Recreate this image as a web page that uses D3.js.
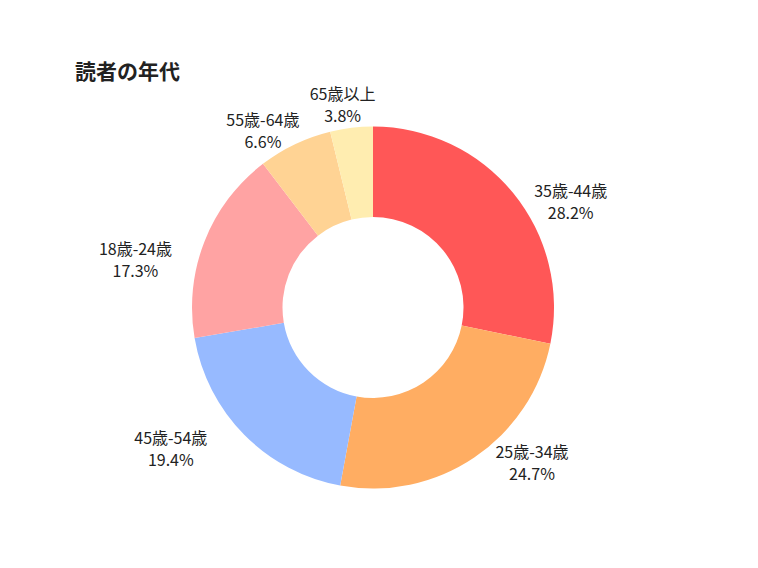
<!DOCTYPE html>
<html>
<head>
<meta charset="utf-8">
<script src="https://cdn.jsdelivr.net/npm/d3@7"></script>
<style>
	html, body { margin: 0; padding: 0; background: #fff; }
	svg text { font-family: "Noto Sans CJK JP", "Noto Sans", sans-serif; fill: #222; }
</style>
</head>
<body>
<svg id="chart" width="758" height="568"></svg>
<script>
	'use strict';

	var title = '読者の年代';
	var ageGroups = ['35歳-44歳', '25歳-34歳', '45歳-54歳', '18歳-24歳', '55歳-64歳', '65歳以上'];
	var shares = [28.2, 24.7, 19.4, 17.3, 6.6, 3.8];
	var sliceColors = ['#ff5757', '#ffad62', '#97baff', '#ffa3a3', '#ffd394', '#ffedb0'];

	var svg = d3.select('#chart');
	var cx = 373, cy = 307.5, outerR = 181, innerR = 90.5;

	svg.append('text')
		.attr('x', 75).attr('y', 79)
		.style('font-size', '21px').style('font-weight', 'bold')
		.text(title);

	var rows = ageGroups.map(function(g, i) {
		return { group: g, value: shares[i], color: sliceColors[i] };
	});

	var pie = d3.pie().sort(null).value(function(d) { return d.value; });
	var arc = d3.arc().innerRadius(innerR).outerRadius(outerR);
	var arcs = pie(rows);

	var g = svg.append('g').attr('transform', 'translate(' + cx + ',' + cy + ')');

	g.selectAll('path').data(arcs).enter().append('path')
		.attr('d', arc)
		.attr('fill', function(d) { return d.data.color; });

	/** labels: pushed out to the sides, upper half flattened toward the middle line */
	var upper = { rx: outerR * 1.41, ry: outerR * 1.13, p: 1.45 };
	var lower = { rx: outerR * 1.57, ry: outerR * 0.95, p: 0.55 };
	var midAngle = function(d) { return (d.startAngle + d.endAngle) / 2; };
	var labelPos = function(d) {
		var a = midAngle(d), c = Math.cos(a);
		var k = c >= 0 ? upper : lower;
		var x = k.rx * Math.sin(a);
		var y = -k.ry * (c < 0 ? -1 : 1) * Math.pow(Math.abs(c), k.p);
		return [x, y];
	};

	var labels = g.selectAll('text.lbl').data(arcs).enter().append('text')
		.attr('class', 'lbl')
		.attr('text-anchor', 'middle')
		.style('font-size', '16px')
		.attr('transform', function(d) {
			return 'translate(' + labelPos(d) + ')';
		});
	labels.append('tspan').attr('x', 0).attr('y', -5).text(function(d) { return d.data.group; });
	labels.append('tspan').attr('x', 0).attr('y', 17).text(function(d) { return d.data.value.toFixed(1) + '%'; });
</script>
</body>
</html>
